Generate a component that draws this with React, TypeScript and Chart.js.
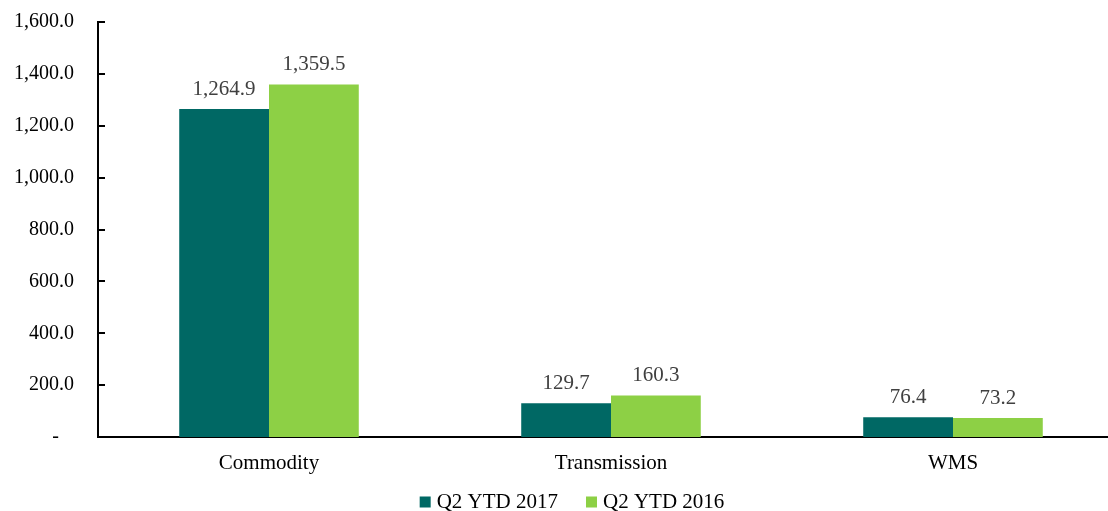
import React, { useEffect, useRef } from "react";
import { Chart, registerables } from "chart.js";

Chart.register(...registerables);

const categories = ["Commodity", "Transmission", "WMS"];
const series2017 = [1264.9, 129.7, 76.4];
const series2016 = [1359.5, 160.3, 73.2];
const seriesNames = ["Q2 YTD 2017", "Q2 YTD 2016"];
const yTicks = [0, 200, 400, 600, 800, 1000, 1200, 1400, 1600];

const TEAL = "#006864";
const GREEN = "#8DD045";
const FONT = "'Liberation Serif', 'Times New Roman', serif";
const FS = 21;
const FSY = 20;
const LEGEND_CX = 572;

const fmt = (v: number) =>
  v.toLocaleString("en-US", { minimumFractionDigits: 1, maximumFractionDigits: 1 });

const insideTicks = {
  id: "insideTicks",
  afterDraw(chart: any) {
    const { ctx, chartArea, scales } = chart;
    const y = scales.y;
    ctx.save();
    ctx.strokeStyle = "#000";
    ctx.lineWidth = 2;
    yTicks.forEach((t) => {
      const py = Math.round(y.getPixelForValue(t));
      ctx.beginPath();
      ctx.moveTo(chartArea.left, py);
      ctx.lineTo(chartArea.left + 7, py);
      ctx.stroke();
    });
    ctx.restore();
  },
};

const dataLabels = {
  id: "dataLabels",
  afterDatasetsDraw(chart: any) {
    const { ctx } = chart;
    ctx.save();
    ctx.font = `${FS}px ${FONT}`;
    ctx.fillStyle = "#404040";
    ctx.textAlign = "center";
    ctx.textBaseline = "bottom";
    chart.data.datasets.forEach((ds: any, i: number) => {
      const meta = chart.getDatasetMeta(i);
      meta.data.forEach((bar: any, j: number) => {
        ctx.fillText(fmt(ds.data[j]), bar.x, bar.y - 9);
      });
    });
    ctx.restore();
  },
};

const customLegend = {
  id: "customLegend",
  afterDraw(chart: any) {
    const { ctx } = chart;
    const ds = chart.data.datasets;
    ctx.save();
    ctx.font = `${FS}px ${FONT}`;
    const box = 11;
    const gapBoxText = 6;
    const gapItems = 28;
    const widths = ds.map((d: any) => box + gapBoxText + ctx.measureText(d.label).width);
    const total = widths.reduce((a: number, b: number) => a + b, 0) + gapItems * (ds.length - 1);
    let x = LEGEND_CX - total / 2;
    const cy = 502;
    ds.forEach((d: any, i: number) => {
      ctx.fillStyle = d.backgroundColor;
      ctx.fillRect(x, cy - box / 2, box, box);
      ctx.fillStyle = "#000";
      ctx.textAlign = "left";
      ctx.textBaseline = "middle";
      ctx.fillText(d.label, x + box + gapBoxText, cy);
      x += widths[i] + gapItems;
    });
    ctx.restore();
  },
};

export default function App() {
  const ref = useRef<HTMLCanvasElement>(null);
  useEffect(() => {
    if (!ref.current) return;
    const chart = new Chart(ref.current, {
      type: "bar",
      data: {
        labels: categories,
        datasets: [
          { label: seriesNames[0], data: series2017, backgroundColor: TEAL },
          { label: seriesNames[1], data: series2016, backgroundColor: GREEN },
        ],
      },
      options: {
        animation: false,
        responsive: false,
        devicePixelRatio: 1,
        layout: { padding: { top: 22, left: 0, right: 0, bottom: 29 } },
        datasets: {
          bar: { categoryPercentage: 0.525, barPercentage: 1 },
        },
        scales: {
          x: {
            grid: { display: false, drawTicks: false },
            border: { display: true, color: "#000", width: 2 },
            ticks: { color: "#000", font: { family: FONT, size: FS }, padding: 14 },
            afterFit: (s: any) => {
              s.height = 45;
              s.paddingLeft = 0;
              s.paddingRight = 0;
            },
          },
          y: {
            min: 0,
            max: 1600,
            afterBuildTicks: (s: any) => {
              s.ticks = yTicks.map((v) => ({ value: v }));
            },
            grid: { display: false, drawTicks: false },
            border: { display: true, color: "#000", width: 2 },
            ticks: {
              color: "#000",
              font: { family: FONT, size: FSY },
              padding: 24,
              callback: (v: any) => (Number(v) === 0 ? "-   " : fmt(Number(v))),
            },
            afterFit: (s: any) => {
              s.width = 98;
              s.paddingTop = 0;
              s.paddingBottom = 0;
            },
          },
        },
        plugins: {
          legend: { display: false },
          tooltip: { enabled: false },
        },
      },
      plugins: [insideTicks, dataLabels, customLegend],
    });
    return () => chart.destroy();
  }, []);
  return (
    <div style={{ position: "fixed", left: 0, top: 0, width: 1108, height: 511, overflow: "hidden", background: "#fff" }}>
      <canvas ref={ref} width={1124} height={511} style={{ display: "block" }} />
    </div>
  );
}
